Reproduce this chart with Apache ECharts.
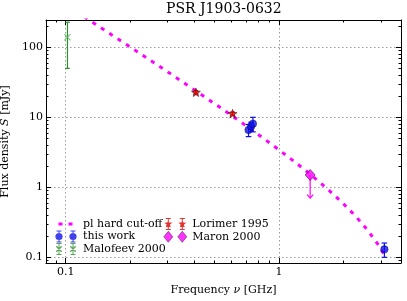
<!DOCTYPE html>
<html><head><meta charset="utf-8">
<script src="https://cdn.jsdelivr.net/npm/echarts@6/dist/echarts.min.js"></script>
<style>html,body{margin:0;padding:0;background:#fff}#c{width:407px;height:301px}</style>
</head><body><div id="c"></div>
<script>
// ---- data (GHz, mJy) ----
const xTickValues = [0.1, 1];
const xTickLabels = ['0.1', '1'];
const yTickValues = [0.1, 1, 10, 100];
const yTickLabels = ['0.1', '1', '10', '100'];

const fitFreq = [0.102, 0.12, 0.13, 0.15, 0.2, 0.3, 0.4, 0.5, 0.6, 0.7, 0.85, 1.0, 1.2, 1.4, 1.7, 2.0, 2.3, 2.6, 2.9, 3.12];
const fitFlux = [391, 283, 241, 181, 102, 44.8, 24.8, 15.6, 10.6, 7.59, 4.95, 3.43, 2.24, 1.54, 0.93, 0.587, 0.38, 0.246, 0.156, 0.108];

const malofeevFreq = [0.102];
const malofeevFlux = [139];
const malofeevErr = [89];

const lorimerFreq = [0.408, 0.606];
const lorimerFlux = [22.8, 11.3];
const lorimerErr = [1.2, 0.6];

const thisFreq = [0.72, 0.74, 0.755, 3.12];
const thisFlux = [6.6, 7.4, 8.1, 0.13];
const thisErr = [1.3, 1.1, 1.9, 0.03];

const maronFreq = [1.4];
const maronFlux = [1.5];
const maronLimitTip = [0.70];

// ---- axis ranges (log10 space) ----
const xMin = -1.092, xMax = 0.572;
const yMin = -1.081, yMax = 2.39;

const L = Math.log10;
function minorLogs(lo, hi) {
  const out = [];
  for (let d = -3; d <= 3; d++) for (let k = 2; k <= 9; k++) {
    const v = L(k) + d; if (v > lo && v < hi) out.push(v);
  }
  return out;
}
const xMajor = xTickValues.map(L), yMajor = yTickValues.map(L);
const xMinor = minorLogs(xMin, xMax), yMinor = minorLogs(yMin, yMax);
function fmt(vals, labels) {
  return v => { for (let i = 0; i < vals.length; i++) if (Math.abs(vals[i] - v) < 1e-6) return labels[i]; return ''; };
}
const FONT = 'DejaVu Serif';
const lineBlack = {color: '#000', width: 1};

function axis(dim, pos, values, len, major, labelFmt, extra) {
  const a = {
    type: 'value', position: pos,
    min: dim === 'x' ? xMin : yMin, max: dim === 'x' ? xMax : yMax,
    axisLine: {show: major, onZero: false, lineStyle: lineBlack},
    axisTick: {show: true, inside: true, length: len, customValues: values, lineStyle: lineBlack},
    axisLabel: labelFmt ? {show: true, customValues: values, formatter: labelFmt,
      fontFamily: FONT, fontSize: 11, color: '#000', margin: dim === 'x' ? 4 : 3} : {show: false},
    splitLine: labelFmt ? {show: true, lineStyle: {color: '#9a9a9a', width: 1, type: [1.5, 2.5]}} : {show: false}
  };
  return Object.assign(a, extra || {});
}

const xAxes = [
  axis('x', 'bottom', xMajor, 5, true, fmt(xMajor, xTickLabels), {
    name: 'Frequency {i|ν} [GHz]', nameLocation: 'middle', nameGap: 22,
    nameTextStyle: {fontFamily: FONT, fontSize: 11, color: '#000',
      rich: {i: {fontFamily: FONT, fontSize: 11, fontStyle: 'italic', color: '#000'}}}
  }),
  axis('x', 'bottom', xMinor, 2.5, false, null),
  axis('x', 'top', xMajor, 5, true, null),
  axis('x', 'top', xMinor, 2.5, false, null)
];
const yAxes = [
  axis('y', 'left', yMajor, 5, true, fmt(yMajor, yTickLabels), {
    name: 'Flux density {i|S} [mJy]', nameLocation: 'middle', nameGap: 29,
    nameTextStyle: {fontFamily: FONT, fontSize: 11, color: '#000',
      rich: {i: {fontFamily: FONT, fontSize: 11, fontStyle: 'italic', color: '#000'}}}
  }),
  axis('y', 'left', yMinor, 2.5, false, null),
  axis('y', 'right', yMajor, 5, true, null),
  axis('y', 'right', yMinor, 2.5, false, null)
];

// ---- symbols ----
function starPath(cx, cy, R, r) {
  let s = '';
  for (let i = 0; i < 10; i++) {
    const a = Math.PI * i / 5, rr = i % 2 ? r : R;
    s += (i ? 'L' : 'M') + (cx + rr * Math.sin(a)).toFixed(2) + ' ' + (cy - rr * Math.cos(a)).toFixed(2) + ' ';
  }
  return s + 'Z ';
}
function xPath(cx, cy, h, t) {
  return `M${cx-h} ${cy-h+t}L${cx-h+t} ${cy-h}L${cx+h} ${cy+h-t}L${cx+h-t} ${cy+h}Z ` +
         `M${cx-h} ${cy+h-t}L${cx+h-t} ${cy-h}L${cx+h} ${cy-h+t}L${cx-h+t} ${cy+h}Z `;
}
function circlePath(cx, cy, r) {
  return `M${cx-r} ${cy}A${r} ${r} 0 1 1 ${cx+r} ${cy}A${r} ${r} 0 1 1 ${cx-r} ${cy}Z `;
}
function barsPath(cx) {
  return `M${cx-0.5} 0H${cx+0.5}V12H${cx-0.5}Z M${cx-2.5} 0H${cx+2.5}V1H${cx-2.5}Z M${cx-2.5} 11H${cx+2.5}V12H${cx-2.5}Z `;
}
function diamondPath(cx) { return `M${cx} 0.5L${cx+4.5} 6L${cx} 11.5L${cx-4.5} 6Z `; }
const BOX = 'path://M0 0 M24 12 ';
const icons = {
  fit: BOX + 'M4.5 4.5H8.5V7.5H4.5Z M14.5 4.5H18.5V7.5H14.5Z',
  thisw: BOX + barsPath(5) + circlePath(5, 6, 3.6) + barsPath(19) + circlePath(19, 6, 3.6),
  malo: BOX + barsPath(5) + xPath(5, 6, 3.2, 0.9) + barsPath(19) + xPath(19, 6, 3.2, 0.9),
  lori: BOX + barsPath(5) + starPath(5, 6, 4.2, 1.8) + barsPath(19) + starPath(19, 6, 4.2, 1.8),
  maron: BOX + diamondPath(5) + diamondPath(19)
};

// ---- error bars via library coordinates ----
function errRender(color, capW, lw) {
  return function (params, api) {
    const x = api.value(0), lo = api.value(1), hi = api.value(2);
    const a = api.coord([x, hi]), b = api.coord([x, lo]);
    const st = {stroke: color, lineWidth: lw, fill: null};
    return {type: 'group', children: [
      {type: 'line', shape: {x1: a[0], y1: a[1], x2: b[0], y2: b[1]}, style: st},
      {type: 'line', shape: {x1: a[0] - capW, y1: a[1], x2: a[0] + capW, y2: a[1]}, style: st},
      {type: 'line', shape: {x1: b[0] - capW, y1: b[1], x2: b[0] + capW, y2: b[1]}, style: st}
    ]};
  };
}
function arrowRender(color, lw) {
  return function (params, api) {
    const x = api.value(0), s = api.value(1), tip = api.value(2);
    const a = api.coord([x, s]), b = api.coord([x, tip]);
    const st = {stroke: color, lineWidth: lw, fill: null};
    return {type: 'group', children: [
      {type: 'line', shape: {x1: a[0], y1: a[1], x2: b[0], y2: b[1]}, style: st},
      {type: 'polyline', shape: {points: [[b[0] - 3, b[1] - 3.5], [b[0], b[1]], [b[0] + 3, b[1] - 3.5]]}, style: st}
    ]};
  };
}
function errData(f, s, e) { return f.map((v, i) => [L(v), L(s[i] - e[i]), L(s[i] + e[i])]); }
function ptData(f, s) { return f.map((v, i) => [L(v), L(s[i])]); }

const cMagenta = '#ff00ff', cBlue = '#1010e8', cRed = '#dd0000', cGreenBar = '#2f8f2f', cGreenMk = '#55b855';

const series = [
  {name: 'pl hard cut-off', type: 'line', data: ptData(fitFreq, fitFlux), showSymbol: false, symbol: 'none',
   clip: true, z: 1, lineStyle: {color: cMagenta, width: 3, type: [4, 6]}, silent: true},
  {name: 'errMalo', type: 'custom', z: 2, data: errData(malofeevFreq, malofeevFlux, malofeevErr),
   renderItem: errRender(cGreenBar, 2.3, 1.2), silent: true},
  {name: 'errLori', type: 'custom', z: 2, data: errData(lorimerFreq, lorimerFlux, lorimerErr),
   renderItem: errRender(cRed, 2.3, 1.2), silent: true},
  {name: 'errThis', type: 'custom', z: 2, data: errData(thisFreq, thisFlux, thisErr),
   renderItem: errRender(cBlue, 2.8, 1.2), silent: true},
  {name: 'limMaron', type: 'custom', z: 2, data: maronFreq.map((v, i) => [L(v), L(maronFlux[i]), L(maronLimitTip[i])]),
   renderItem: arrowRender(cMagenta, 1.2), silent: true},
  {name: 'Malofeev 2000', type: 'scatter', z: 3, data: ptData(malofeevFreq, malofeevFlux),
   symbol: 'path://' + xPath(3.5, 3.5, 3.5, 0.8), symbolSize: 7, itemStyle: {color: cGreenMk}, silent: true},
  {name: 'Lorimer 1995', type: 'scatter', z: 3, data: ptData(lorimerFreq, lorimerFlux),
   symbol: 'path://' + starPath(5, 5, 5, 2.1), symbolSize: 9, symbolKeepAspect: true,
   itemStyle: {color: cRed, borderColor: '#200000', borderWidth: 0.6}, silent: true},
  {name: 'this work', type: 'scatter', z: 3, data: ptData(thisFreq, thisFlux),
   symbol: 'circle', symbolSize: 7.5, itemStyle: {color: cBlue, borderColor: '#000060', borderWidth: 0.5}, silent: true},
  {name: 'Maron 2000', type: 'scatter', z: 3, data: ptData(maronFreq, maronFlux),
   symbol: 'diamond', symbolSize: [10, 11], itemStyle: {color: cMagenta, borderColor: '#400040', borderWidth: 0.7}, silent: true}
];

const legendText = {fontFamily: FONT, fontSize: 11, color: '#000'};
const legendBase = {orient: 'vertical', padding: 0, itemGap: 0.5, itemWidth: 24, itemHeight: 12,
  selectedMode: false, textStyle: legendText};

const option = {
  animation: false,
  backgroundColor: '#fff',
  title: {text: 'PSR J1903-0632', left: 166, top: 2, padding: 0,
    textStyle: {fontFamily: FONT, fontSize: 14, fontWeight: 'normal', color: '#000'}},
  grid: {left: 46, right: 6, top: 20, bottom: 38, containLabel: false, outerBoundsMode: 'none'},
  xAxis: xAxes,
  yAxis: yAxes,
  legend: [
    Object.assign({}, legendBase, {left: 54, top: 218, data: [
      {name: 'pl hard cut-off', icon: icons.fit, itemStyle: {color: cMagenta, borderWidth: 0}},
      {name: 'this work', icon: icons.thisw, itemStyle: {color: cBlue, borderWidth: 0}},
      {name: 'Malofeev 2000', icon: icons.malo, itemStyle: {color: cGreenBar, borderWidth: 0}}
    ]}),
    Object.assign({}, legendBase, {left: 163, top: 218, data: [
      {name: 'Lorimer 1995', icon: icons.lori, itemStyle: {color: cRed, borderWidth: 0}},
      {name: 'Maron 2000', icon: icons.maron, itemStyle: {color: cMagenta, borderColor: '#400040', borderWidth: 0.6}}
    ]})
  ],
  series: series
};
echarts.init(document.getElementById('c'), null, {renderer: 'canvas'}).setOption(option);
</script>
</body></html>
